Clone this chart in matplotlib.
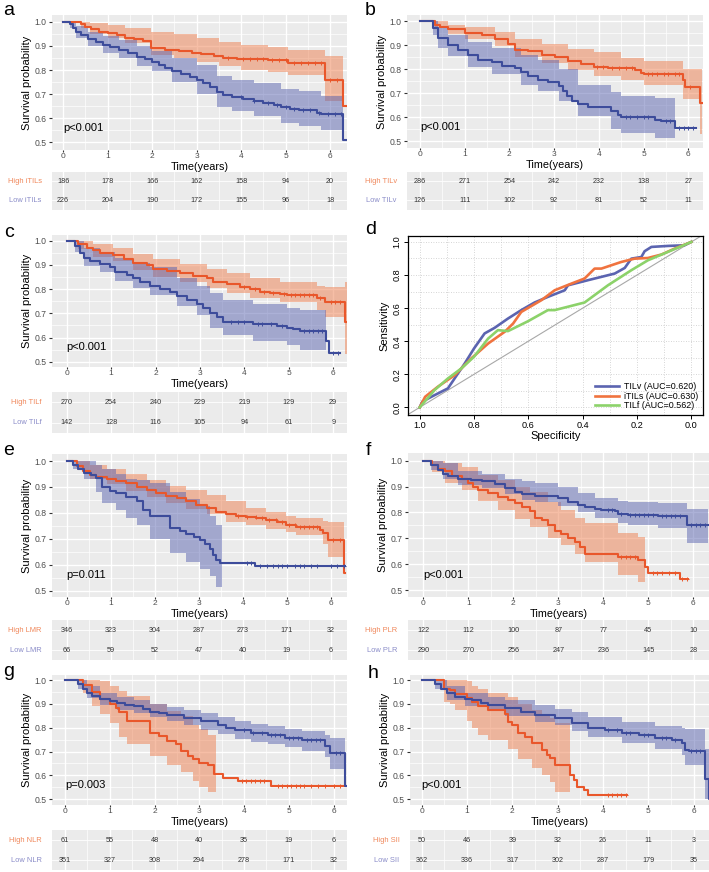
import matplotlib
matplotlib.use("Agg")
import matplotlib.pyplot as plt
import numpy as np

plt.rcParams['font.family'] = ['Liberation Sans', 'DejaVu Sans']

# ---------------- data ----------------
years = [0, 1, 2, 3, 4, 5, 6]

# a: iTILs
a_hi_t = [0, 0.40, 0.50, 0.62, 0.80, 1.00, 1.20, 1.40, 1.60, 1.80, 1.97, 2.30, 2.60, 2.90, 3.10, 3.40, 3.60, 3.90, 4.60, 5.05, 5.88, 6.30, 6.35]
a_hi_s = [1.0, 0.99, 0.98, 0.97, 0.96, 0.955, 0.945, 0.935, 0.93, 0.92, 0.89, 0.885, 0.878, 0.872, 0.865, 0.86, 0.852, 0.845, 0.84, 0.83, 0.76, 0.65, 0.65]
a_hi_bt = [0, 0.40, 0.60, 1.00, 1.40, 1.97, 2.50, 3.00, 3.50, 4.00, 4.60, 5.05, 5.88, 6.30]
a_hi_lo = [1.0, 0.975, 0.950, 0.932, 0.912, 0.862, 0.850, 0.835, 0.815, 0.800, 0.790, 0.778, 0.670, 0.670]
a_hi_up = [1.0, 1.0, 0.995, 0.988, 0.975, 0.960, 0.950, 0.935, 0.915, 0.905, 0.895, 0.885, 0.857, 0.857]
a_hi_cens = [3.7, 4.05, 4.2, 4.35, 4.5, 4.7, 4.85, 5.0, 5.2, 5.35, 5.5, 5.65, 5.8, 6.0, 6.15]
a_lo_t = [0, 0.15, 0.22, 0.30, 0.40, 0.55, 0.75, 0.90, 1.05, 1.25, 1.45, 1.65, 1.85, 2.00, 2.15, 2.30, 2.45, 2.65, 2.85, 3.00, 3.15, 3.30, 3.45, 3.60, 3.80, 4.05, 4.30, 4.50, 4.75, 4.90, 5.10, 5.30, 5.70, 5.80, 6.30, 6.35]
a_lo_s = [1.0, 0.99, 0.975, 0.96, 0.945, 0.93, 0.915, 0.905, 0.895, 0.885, 0.872, 0.855, 0.845, 0.835, 0.82, 0.81, 0.795, 0.785, 0.77, 0.76, 0.745, 0.73, 0.71, 0.695, 0.688, 0.68, 0.672, 0.663, 0.655, 0.645, 0.638, 0.632, 0.622, 0.615, 0.51, 0.51]
a_lo_bt = [0, 0.15, 0.30, 0.55, 0.90, 1.25, 1.65, 2.00, 2.45, 3.00, 3.45, 3.80, 4.30, 4.90, 5.30, 5.80, 6.30]
a_lo_lo = [1.0, 0.975, 0.935, 0.90, 0.872, 0.850, 0.818, 0.795, 0.748, 0.702, 0.648, 0.628, 0.608, 0.578, 0.565, 0.552, 0.552]
a_lo_up = [1.0, 1.0, 0.985, 0.960, 0.942, 0.925, 0.898, 0.880, 0.848, 0.820, 0.775, 0.757, 0.745, 0.722, 0.712, 0.690, 0.690]
a_lo_cens = [4.0, 4.3, 4.6, 4.8, 5.0, 5.2, 5.4, 5.55, 5.75, 5.95, 6.1, 6.25]
a_names = ['High iTILs', 'Low iTILs']
a_hi_n = [186, 178, 166, 162, 158, 94, 20]
a_lo_n = [226, 204, 190, 172, 155, 96, 18]

# b: TILv
b_hi_t = [0, 0.33, 0.45, 0.63, 1.00, 1.38, 1.68, 1.97, 2.12, 2.42, 2.72, 3.02, 3.32, 3.60, 3.90, 4.20, 4.80, 4.95, 5.00, 5.89, 5.93, 6.26, 6.30]
b_hi_s = [1.0, 0.985, 0.975, 0.965, 0.95, 0.94, 0.925, 0.905, 0.88, 0.875, 0.86, 0.85, 0.835, 0.82, 0.81, 0.805, 0.795, 0.785, 0.78, 0.755, 0.725, 0.66, 0.66]
b_hi_bt = [0, 0.33, 0.63, 1.00, 1.68, 2.12, 2.72, 3.32, 3.90, 4.50, 5.00, 5.89, 6.26, 6.30]
b_hi_lo = [1.0, 0.97, 0.945, 0.925, 0.895, 0.85, 0.825, 0.795, 0.77, 0.755, 0.735, 0.675, 0.53, 0.53]
b_hi_up = [1.0, 1.0, 0.985, 0.975, 0.955, 0.925, 0.905, 0.885, 0.87, 0.848, 0.835, 0.80, 0.80, 0.80]
b_hi_cens = [3.95, 4.1, 4.3, 4.45, 4.6, 4.75, 5.1, 5.2, 5.3, 5.45, 5.55, 5.7, 5.8, 6.05]
b_lo_t = [0, 0.30, 0.41, 0.63, 0.86, 1.08, 1.30, 1.60, 1.83, 2.12, 2.27, 2.42, 2.65, 2.87, 3.10, 3.20, 3.28, 3.39, 3.54, 3.76, 4.28, 4.43, 4.50, 5.25, 5.40, 5.70, 6.18]
b_lo_s = [1.0, 0.97, 0.93, 0.90, 0.88, 0.86, 0.84, 0.83, 0.815, 0.805, 0.79, 0.77, 0.755, 0.745, 0.73, 0.71, 0.69, 0.67, 0.655, 0.645, 0.625, 0.61, 0.60, 0.59, 0.585, 0.555, 0.555]
b_lo_bt = [0, 0.30, 0.41, 0.63, 1.08, 1.60, 2.27, 2.65, 3.10, 3.54, 4.28, 4.50, 5.25, 5.70]
b_lo_lo = [1.0, 0.94, 0.89, 0.855, 0.81, 0.78, 0.735, 0.71, 0.67, 0.605, 0.55, 0.535, 0.515, 0.515]
b_lo_up = [1.0, 1.0, 0.975, 0.94, 0.915, 0.89, 0.86, 0.84, 0.80, 0.735, 0.705, 0.69, 0.68, 0.68]
b_lo_cens = [4.6, 4.7, 4.85, 5.0, 5.1, 5.5, 5.6, 5.8, 5.9, 6.0, 6.1]
b_names = ['High TILv', 'Low TILv']
b_hi_n = [286, 271, 254, 242, 232, 138, 27]
b_lo_n = [126, 111, 102, 92, 81, 52, 11]

# c: TILf
c_hi_t = [0, 0.26, 0.45, 0.60, 0.75, 1.05, 1.28, 1.50, 1.80, 1.95, 2.25, 2.55, 2.85, 3.15, 3.30, 3.60, 3.90, 4.13, 4.35, 4.58, 4.80, 4.95, 5.63, 5.81, 6.26, 6.30]
c_hi_s = [1.0, 0.985, 0.97, 0.96, 0.95, 0.94, 0.925, 0.91, 0.90, 0.885, 0.875, 0.865, 0.855, 0.845, 0.83, 0.82, 0.81, 0.80, 0.79, 0.785, 0.78, 0.775, 0.765, 0.745, 0.665, 0.665]
c_hi_bt = [0, 0.26, 0.60, 1.05, 1.50, 1.95, 2.55, 3.15, 3.60, 4.13, 4.80, 5.63, 5.81, 6.26, 6.30]
c_hi_lo = [1.0, 0.965, 0.935, 0.915, 0.88, 0.85, 0.83, 0.805, 0.785, 0.765, 0.745, 0.715, 0.686, 0.53, 0.53]
c_hi_up = [1.0, 1.0, 0.985, 0.97, 0.945, 0.925, 0.905, 0.885, 0.865, 0.845, 0.83, 0.815, 0.81, 0.83, 0.83]
c_hi_cens = [4.0, 4.25, 4.45, 4.65, 4.9, 5.05, 5.15, 5.25, 5.35, 5.45, 5.55, 5.7, 5.95, 6.05, 6.15]
c_lo_t = [0, 0.19, 0.30, 0.38, 0.53, 0.75, 0.98, 1.09, 1.35, 1.50, 1.65, 1.88, 2.10, 2.33, 2.48, 2.70, 2.93, 3.08, 3.23, 3.38, 3.53, 4.20, 4.73, 4.95, 5.10, 5.25, 5.84, 5.90, 6.15]
c_lo_s = [1.0, 0.98, 0.95, 0.93, 0.915, 0.905, 0.89, 0.87, 0.86, 0.845, 0.83, 0.815, 0.80, 0.79, 0.77, 0.755, 0.74, 0.72, 0.70, 0.685, 0.665, 0.655, 0.648, 0.64, 0.635, 0.625, 0.585, 0.535, 0.535]
c_lo_bt = [0, 0.19, 0.38, 0.75, 1.09, 1.50, 1.88, 2.48, 2.93, 3.23, 3.53, 4.20, 4.95, 5.25, 5.84]
c_lo_lo = [1.0, 0.955, 0.895, 0.87, 0.835, 0.805, 0.775, 0.73, 0.695, 0.64, 0.61, 0.585, 0.57, 0.55, 0.55]
c_lo_up = [1.0, 1.0, 0.97, 0.955, 0.93, 0.91, 0.89, 0.845, 0.815, 0.785, 0.755, 0.74, 0.72, 0.715, 0.715]
c_lo_cens = [3.7, 3.85, 4.0, 4.3, 4.4, 4.6, 4.85, 5.35, 5.45, 5.55, 5.65, 5.75, 6.0, 6.1]
c_names = ['High TILf', 'Low TILf']
c_hi_n = [270, 254, 240, 229, 219, 129, 29]
c_lo_n = [142, 128, 116, 105, 94, 61, 9]

# d: ROC (specificity, sensitivity)
roc_tilv_sp = [1.0, 0.99, 0.957, 0.896, 0.834, 0.80, 0.761, 0.724, 0.675, 0.626, 0.577, 0.528, 0.466, 0.454, 0.38, 0.331, 0.282, 0.245, 0.221, 0.184, 0.172, 0.147, 0.086, 0.025, 0.0]
roc_tilv_se = [0.0, 0.035, 0.064, 0.115, 0.266, 0.356, 0.447, 0.481, 0.537, 0.588, 0.634, 0.668, 0.708, 0.738, 0.769, 0.789, 0.809, 0.843, 0.899, 0.909, 0.944, 0.97, 0.976, 0.98, 1.0]
roc_itils_sp = [1.0, 0.98, 0.933, 0.871, 0.81, 0.748, 0.687, 0.656, 0.626, 0.552, 0.503, 0.442, 0.393, 0.356, 0.331, 0.258, 0.209, 0.16, 0.11, 0.061, 0.0]
roc_itils_se = [0.0, 0.064, 0.125, 0.195, 0.296, 0.386, 0.457, 0.507, 0.577, 0.648, 0.708, 0.748, 0.779, 0.839, 0.839, 0.879, 0.899, 0.903, 0.924, 0.96, 1.0]
roc_tilf_sp = [1.0, 0.945, 0.896, 0.847, 0.80, 0.748, 0.712, 0.675, 0.601, 0.528, 0.503, 0.393, 0.307, 0.221, 0.16, 0.086, 0.0]
roc_tilf_se = [0.0, 0.105, 0.175, 0.235, 0.306, 0.416, 0.467, 0.461, 0.521, 0.588, 0.588, 0.634, 0.738, 0.829, 0.889, 0.94, 1.0]
roc_labels = ['TILv (AUC=0.620)', 'iTILs (AUC=0.630)', 'TILf (AUC=0.562)']

# e: LMR
e_hi_t = [0, 0.23, 0.38, 0.53, 0.68, 0.91, 1.13, 1.36, 1.59, 1.82, 2.04, 2.27, 2.50, 2.72, 2.95, 3.18, 3.40, 3.63, 3.86, 4.08, 4.31, 4.54, 4.77, 4.99, 5.22, 5.75, 5.82, 5.94, 6.30, 6.32]
e_hi_s = [1.0, 0.98, 0.96, 0.945, 0.94, 0.93, 0.922, 0.914, 0.9, 0.888, 0.875, 0.865, 0.856, 0.845, 0.83, 0.82, 0.805, 0.797, 0.79, 0.785, 0.78, 0.772, 0.765, 0.752, 0.746, 0.735, 0.722, 0.695, 0.57, 0.57]
e_hi_bt = [0, 0.23, 0.53, 0.91, 1.36, 1.82, 2.27, 2.72, 3.18, 3.63, 4.08, 4.54, 4.99, 5.22, 5.82, 5.94, 6.30]
e_hi_lo = [1.0, 0.965, 0.93, 0.912, 0.885, 0.86, 0.837, 0.816, 0.795, 0.765, 0.755, 0.738, 0.725, 0.715, 0.68, 0.63, 0.63]
e_hi_up = [1.0, 1.0, 0.985, 0.97, 0.95, 0.925, 0.905, 0.89, 0.87, 0.845, 0.82, 0.805, 0.79, 0.78, 0.77, 0.765, 0.765]
e_hi_cens = [3.9, 4.1, 4.3, 4.45, 4.6, 4.75, 4.9, 5.05, 5.2, 5.3, 5.4, 5.5, 5.6, 5.7, 6.05, 6.2]
e_lo_t = [0, 0.15, 0.25, 0.40, 0.55, 0.68, 0.80, 0.98, 1.13, 1.36, 1.59, 1.74, 1.90, 2.35, 2.57, 2.72, 2.90, 3.03, 3.14, 3.25, 3.33, 3.40, 3.48, 4.27, 6.33]
e_lo_s = [1.0, 0.985, 0.97, 0.955, 0.945, 0.935, 0.90, 0.885, 0.875, 0.86, 0.845, 0.81, 0.788, 0.74, 0.73, 0.72, 0.708, 0.695, 0.68, 0.66, 0.637, 0.618, 0.608, 0.595, 0.595]
e_lo_bt = [0, 0.15, 0.40, 0.68, 0.80, 1.13, 1.36, 1.59, 1.90, 2.35, 2.72, 3.03, 3.25, 3.40, 3.52]
e_lo_lo = [1.0, 0.97, 0.93, 0.88, 0.84, 0.81, 0.78, 0.755, 0.70, 0.645, 0.61, 0.585, 0.555, 0.515, 0.515]
e_lo_up = [1.0, 1.0, 1.0, 0.985, 0.97, 0.95, 0.93, 0.925, 0.915, 0.88, 0.855, 0.825, 0.79, 0.755, 0.755]
e_lo_cens = [4.1, 4.2, 4.4, 4.55, 4.7, 4.8, 4.9, 5.0, 5.2, 5.3, 5.4, 5.55, 5.7, 6.0, 6.15, 6.3]
e_names = ['High LMR', 'Low LMR']
e_hi_n = [346, 323, 304, 287, 273, 171, 32]
e_lo_n = [66, 59, 52, 47, 40, 19, 6]

# f: PLR
f_hi_t = [0, 0.20, 0.33, 0.48, 0.63, 0.85, 1.00, 1.11, 1.22, 1.44, 1.67, 1.89, 2.04, 2.19, 2.37, 2.48, 2.63, 2.78, 2.93, 3.07, 3.22, 3.37, 3.48, 3.59, 4.33, 4.78, 4.93, 5.00, 5.70, 5.89]
f_hi_s = [1.0, 0.985, 0.97, 0.96, 0.94, 0.93, 0.915, 0.90, 0.885, 0.875, 0.86, 0.85, 0.835, 0.82, 0.805, 0.78, 0.77, 0.75, 0.73, 0.715, 0.70, 0.685, 0.665, 0.64, 0.629, 0.616, 0.59, 0.567, 0.541, 0.541]
f_hi_bt = [0, 0.20, 0.48, 0.85, 1.22, 1.67, 2.04, 2.37, 2.78, 3.07, 3.37, 3.59, 4.33, 4.78, 4.93]
f_hi_lo = [1.0, 0.955, 0.915, 0.885, 0.845, 0.81, 0.775, 0.745, 0.70, 0.675, 0.64, 0.61, 0.56, 0.53, 0.53]
f_hi_up = [1.0, 1.0, 0.99, 0.975, 0.945, 0.925, 0.90, 0.88, 0.84, 0.81, 0.78, 0.76, 0.72, 0.705, 0.705]
f_hi_cens = [4.4, 4.5, 4.6, 4.7, 5.1, 5.2, 5.3, 5.45, 5.6, 5.75, 5.85]
f_lo_t = [0, 0.18, 0.33, 0.44, 0.55, 0.78, 1.07, 1.30, 1.60, 1.81, 2.04, 2.19, 2.48, 3.00, 3.22, 3.44, 3.59, 3.81, 3.96, 4.26, 4.33, 4.55, 5.22, 5.87, 6.33]
f_lo_s = [1.0, 0.985, 0.965, 0.95, 0.94, 0.93, 0.925, 0.92, 0.91, 0.895, 0.88, 0.87, 0.865, 0.855, 0.84, 0.83, 0.82, 0.815, 0.81, 0.805, 0.795, 0.79, 0.785, 0.75, 0.75]
f_lo_bt = [0, 0.18, 0.44, 0.78, 1.30, 1.81, 2.19, 2.48, 3.00, 3.44, 3.81, 4.33, 4.55, 5.22, 5.87, 6.33]
f_lo_lo = [1.0, 0.965, 0.93, 0.905, 0.895, 0.87, 0.85, 0.84, 0.825, 0.80, 0.78, 0.76, 0.75, 0.74, 0.68, 0.68]
f_lo_up = [1.0, 1.0, 0.99, 0.96, 0.95, 0.93, 0.92, 0.915, 0.90, 0.875, 0.855, 0.845, 0.84, 0.835, 0.815, 0.815]
f_lo_cens = [4.1, 4.2, 4.4, 4.6, 4.7, 4.8, 4.9, 5.0, 5.1, 5.3, 5.4, 5.5, 5.6, 5.7, 5.95, 6.05, 6.15, 6.25]
f_names = ['High PLR', 'Low PLR']
f_hi_n = [122, 112, 100, 87, 77, 45, 10]
f_lo_n = [290, 270, 256, 247, 236, 145, 28]

# g: NLR
g_hi_t = [0, 0.40, 0.60, 0.79, 1.00, 1.13, 1.20, 1.39, 1.91, 2.10, 2.29, 2.47, 2.59, 2.74, 2.85, 3.00, 3.19, 3.34, 3.53, 3.86, 4.60, 6.33]
g_hi_s = [1.0, 0.98, 0.95, 0.92, 0.90, 0.885, 0.865, 0.827, 0.778, 0.765, 0.744, 0.73, 0.703, 0.682, 0.668, 0.65, 0.645, 0.606, 0.59, 0.576, 0.554, 0.554]
g_hi_bt = [0, 0.40, 0.60, 0.79, 1.00, 1.20, 1.39, 1.91, 2.29, 2.59, 2.85, 3.00, 3.19, 3.37]
g_hi_lo = [1.0, 0.945, 0.89, 0.86, 0.82, 0.76, 0.73, 0.68, 0.645, 0.615, 0.575, 0.55, 0.53, 0.53]
g_hi_up = [1.0, 1.0, 1.0, 0.995, 0.975, 0.955, 0.935, 0.90, 0.87, 0.85, 0.81, 0.795, 0.77, 0.77]
g_hi_cens = [3.95, 4.05, 4.15, 4.25, 4.35, 4.45, 4.75, 4.85, 4.95, 5.05, 5.15, 5.25, 5.35, 5.5, 5.65, 5.8, 6.0, 6.15]
g_lo_t = [0, 0.30, 0.40, 0.49, 0.60, 0.79, 1.00, 1.16, 1.35, 1.54, 1.75, 1.91, 2.10, 2.29, 2.66, 3.04, 3.41, 3.60, 3.79, 4.16, 4.54, 4.91, 5.29, 5.81, 5.93, 6.26, 6.30]
g_lo_s = [1.0, 0.985, 0.965, 0.945, 0.935, 0.92, 0.912, 0.905, 0.897, 0.89, 0.878, 0.868, 0.862, 0.855, 0.843, 0.827, 0.813, 0.80, 0.79, 0.778, 0.769, 0.758, 0.747, 0.723, 0.692, 0.555, 0.555]
g_lo_bt = [0, 0.30, 0.49, 0.79, 1.16, 1.54, 1.91, 2.29, 2.66, 3.04, 3.41, 3.79, 4.16, 4.54, 4.91, 5.29, 5.81, 5.93, 6.26]
g_lo_lo = [1.0, 0.965, 0.925, 0.895, 0.875, 0.862, 0.845, 0.827, 0.81, 0.792, 0.772, 0.751, 0.74, 0.73, 0.717, 0.703, 0.675, 0.627, 0.627]
g_lo_up = [1.0, 1.0, 0.975, 0.945, 0.93, 0.917, 0.90, 0.889, 0.875, 0.861, 0.845, 0.827, 0.815, 0.806, 0.795, 0.786, 0.77, 0.758, 0.758]
g_lo_cens = [4.0, 4.2, 4.4, 4.6, 4.7, 4.8, 5.0, 5.1, 5.2, 5.4, 5.5, 5.6, 5.7, 6.05, 6.15]
g_names = ['High NLR', 'Low NLR']
g_hi_n = [61, 55, 48, 40, 35, 19, 6]
g_lo_n = [351, 327, 308, 294, 278, 171, 32]

# h: SII
h_hi_t = [0, 0.48, 0.63, 0.74, 1.00, 1.10, 1.25, 1.47, 1.84, 1.91, 1.99, 2.13, 2.28, 2.43, 2.65, 2.76, 2.84, 2.95, 3.28, 3.35, 3.42, 3.57, 3.68, 4.53]
h_hi_s = [1.0, 0.965, 0.96, 0.94, 0.925, 0.91, 0.89, 0.875, 0.86, 0.826, 0.812, 0.776, 0.762, 0.734, 0.706, 0.685, 0.671, 0.643, 0.60, 0.58, 0.552, 0.538, 0.517, 0.517]
h_hi_bt = [0, 0.48, 0.63, 0.74, 1.00, 1.10, 1.25, 1.47, 1.91, 2.13, 2.43, 2.65, 2.84, 2.95, 3.28]
h_hi_lo = [1.0, 0.91, 0.90, 0.875, 0.83, 0.80, 0.77, 0.75, 0.71, 0.67, 0.63, 0.60, 0.57, 0.53, 0.53]
h_hi_up = [1.0, 1.0, 1.0, 1.0, 0.995, 0.975, 0.965, 0.945, 0.93, 0.90, 0.875, 0.855, 0.84, 0.82, 0.82]
h_hi_cens = [4.1, 4.2, 4.3, 4.4, 4.5]
h_lo_t = [0, 0.30, 0.42, 0.55, 0.74, 0.95, 1.10, 1.30, 1.47, 1.84, 2.20, 2.50, 2.95, 3.31, 3.68, 4.05, 4.42, 4.79, 5.15, 5.52, 5.74, 5.82, 5.89, 6.26, 6.33, 6.36]
h_lo_s = [1.0, 0.985, 0.965, 0.945, 0.93, 0.922, 0.917, 0.905, 0.896, 0.882, 0.868, 0.854, 0.84, 0.819, 0.798, 0.79, 0.779, 0.769, 0.755, 0.748, 0.737, 0.706, 0.702, 0.583, 0.50, 0.50]
h_lo_bt = [0, 0.30, 0.55, 0.95, 1.47, 1.84, 2.50, 2.95, 3.31, 3.68, 4.42, 5.15, 5.74, 5.82, 6.26, 6.33]
h_lo_lo = [1.0, 0.965, 0.915, 0.89, 0.87, 0.85, 0.825, 0.81, 0.785, 0.76, 0.735, 0.71, 0.685, 0.643, 0.50, 0.50]
h_lo_up = [1.0, 1.0, 0.975, 0.945, 0.93, 0.917, 0.895, 0.88, 0.865, 0.845, 0.825, 0.808, 0.798, 0.795, 0.71, 0.71]
h_lo_cens = [4.1, 4.3, 4.5, 4.6, 4.9, 5.0, 5.3, 5.4, 5.6, 5.95, 6.05, 6.15]
h_names = ['High SII', 'Low SII']
h_hi_n = [50, 46, 39, 32, 26, 11, 3]
h_lo_n = [362, 336, 317, 302, 287, 179, 35]

# ---------------- styling ----------------
ORANGE, ORANGE_F, ORANGE_T = '#E9572B', '#EE7F4F', '#F0875A'
BLUE, BLUE_F, BLUE_T = '#3D4C9B', '#5A64B0', '#8A8CC8'
BG = '#EBEBEB'

W, H = 709, 872
fig = plt.figure(figsize=(W / 100, H / 100), dpi=100)


def box(x0, y0, x1, y1):
    return [x0 / W, 1 - y1 / H, (x1 - x0) / W, (y1 - y0) / H]


def surv_at(t, s, c):
    idx = np.searchsorted(np.array(t), np.array(c), side='right') - 1
    return np.array(s)[idx]


def km_panel(pbox, tbox, xlim, ylim, hi, lo, ptext, names, hi_n, lo_n):
    ax = fig.add_axes(box(*pbox))
    ax.set_zorder(3)
    ax.set_facecolor(BG)
    for sp in ax.spines.values():
        sp.set_visible(False)
    ax.set_xlim(*xlim)
    ax.set_ylim(*ylim)
    ax.set_xticks(years)
    ax.set_xticks([0.5, 1.5, 2.5, 3.5, 4.5, 5.5], minor=True)
    yt = [0.5, 0.6, 0.7, 0.8, 0.9, 1.0]
    ax.set_yticks(yt)
    ax.set_yticklabels(['%.1f' % v for v in yt])
    ax.set_yticks([0.55, 0.65, 0.75, 0.85, 0.95], minor=True)
    ax.grid(which='major', color='white', lw=1.0)
    ax.grid(which='minor', color='white', lw=0.5)
    ax.set_axisbelow(True)
    ax.tick_params(which='major', length=2.2, width=0.8, color='#333333',
                   labelsize=6.2, labelcolor='#4D4D4D', pad=1.5)
    ax.tick_params(axis='x', which='major', length=1.6, pad=0.4, labelsize=6)
    ax.tick_params(which='minor', length=0)

    for (t, s, bt, blo, bup, cens), fc in ((hi, ORANGE_F), (lo, BLUE_F)):
        ax.fill_between(bt, blo, bup, step='post', color=fc, alpha=0.5, lw=0)
    for (t, s, bt, blo, bup, cens), lc in ((hi, ORANGE), (lo, BLUE)):
        ax.step(t, s, where='post', color=lc, lw=1.5)
        ax.plot(cens, surv_at(t, s, cens), ls='none', marker='+', ms=3,
                mew=0.7, color=lc)

    ax.text(0.0, 0.56, ptext, fontsize=8, va='center', ha='left')
    ax.set_ylabel('Survival probability', fontsize=8, labelpad=2)
    ax.set_xlabel('Time(years)', fontsize=7.8, va='center')
    ph = pbox[3] - pbox[1]
    ax.xaxis.set_label_coords(0.5, -17.0 / ph)

    tb = fig.add_axes(box(*tbox))
    tb.set_facecolor(BG)
    for sp in tb.spines.values():
        sp.set_visible(False)
    tb.set_xlim(*xlim)
    tb.set_ylim(0.5, 2.5)
    tb.set_xticks(years)
    tb.set_xticks([0.5, 1.5, 2.5, 3.5, 4.5, 5.5], minor=True)
    tb.set_yticks([1, 2])
    tb.grid(which='major', axis='x', color='white', lw=1.0)
    tb.grid(which='minor', axis='x', color='white', lw=0.5)
    tb.grid(which='major', axis='y', color='white', lw=0.6)
    tb.set_axisbelow(True)
    tb.tick_params(which='both', length=0, labelbottom=False, labelleft=False)
    for yr, n1, n2 in zip(years, hi_n, lo_n):
        tb.text(yr, 2, str(n1), fontsize=5.2, color='#333333', ha='center', va='center')
        tb.text(yr, 1, str(n2), fontsize=5.2, color='#333333', ha='center', va='center')
    tr = tb.get_yaxis_transform()
    tb.text(-0.035, 2, names[0], transform=tr, fontsize=5.4, color=ORANGE_T,
            ha='right', va='center')
    tb.text(-0.035, 1, names[1], transform=tr, fontsize=5.4, color=BLUE_T,
            ha='right', va='center')
    return ax


km_panel((52, 15, 347, 150), (52, 172, 347, 210), (-0.25, 6.38), (0.467, 1.029),
         (a_hi_t, a_hi_s, a_hi_bt, a_hi_lo, a_hi_up, a_hi_cens),
         (a_lo_t, a_lo_s, a_lo_bt, a_lo_lo, a_lo_up, a_lo_cens),
         'p<0.001', a_names, a_hi_n, a_lo_n)
km_panel((407, 15, 703, 148), (407, 172, 703, 210), (-0.29, 6.33), (0.473, 1.025),
         (b_hi_t, b_hi_s, b_hi_bt, b_hi_lo, b_hi_up, b_hi_cens),
         (b_lo_t, b_lo_s, b_lo_bt, b_lo_lo, b_lo_up, b_lo_cens),
         'p<0.001', b_names, b_hi_n, b_lo_n)
km_panel((52, 235, 347, 367), (52, 392, 347, 433), (-0.33, 6.31), (0.478, 1.024),
         (c_hi_t, c_hi_s, c_hi_bt, c_hi_lo, c_hi_up, c_hi_cens),
         (c_lo_t, c_lo_s, c_lo_bt, c_lo_lo, c_lo_up, c_lo_cens),
         'p<0.001', c_names, c_hi_n, c_lo_n)
km_panel((52, 454, 347, 597), (52, 620, 347, 660), (-0.33, 6.37), (0.476, 1.027),
         (e_hi_t, e_hi_s, e_hi_bt, e_hi_lo, e_hi_up, e_hi_cens),
         (e_lo_t, e_lo_s, e_lo_bt, e_lo_lo, e_lo_up, e_lo_cens),
         'p=0.011', e_names, e_hi_n, e_lo_n)
km_panel((408, 453, 709, 597), (408, 620, 709, 660), (-0.34, 6.35), (0.473, 1.03),
         (f_hi_t, f_hi_s, f_hi_bt, f_hi_lo, f_hi_up, f_hi_cens),
         (f_lo_t, f_lo_s, f_lo_bt, f_lo_lo, f_lo_up, f_lo_cens),
         'p<0.001', f_names, f_hi_n, f_lo_n)
km_panel((52, 675, 347, 805), (52, 830, 347, 870), (-0.29, 6.30), (0.475, 1.022),
         (g_hi_t, g_hi_s, g_hi_bt, g_hi_lo, g_hi_up, g_hi_cens),
         (g_lo_t, g_lo_s, g_lo_bt, g_lo_lo, g_lo_up, g_lo_cens),
         'p=0.003', g_names, g_hi_n, g_lo_n)
km_panel((410, 675, 709, 805), (410, 830, 709, 870), (-0.26, 6.34), (0.475, 1.022),
         (h_hi_t, h_hi_s, h_hi_bt, h_hi_lo, h_hi_up, h_hi_cens),
         (h_lo_t, h_lo_s, h_lo_bt, h_lo_lo, h_lo_up, h_lo_cens),
         'p<0.001', h_names, h_hi_n, h_lo_n)

# ---------------- ROC panel d ----------------
axd = fig.add_axes(box(408, 236, 703, 415))
axd.set_xlim(1.043, -0.043)
axd.set_ylim(-0.046, 1.036)
for v in [0.1 * i for i in range(11)]:
    axd.axvline(v, color='#C8C8C8', lw=0.6, ls=(0, (1, 2)))
    axd.axhline(v, color='#C8C8C8', lw=0.6, ls=(0, (1, 2)))
axd.plot([1.1, -0.1], [-0.1, 1.1], color='#A8A8A8', lw=0.8)
axd.plot(roc_tilv_sp, roc_tilv_se, color='#5B64B0', lw=1.9, label=roc_labels[0])
axd.plot(roc_itils_sp, roc_itils_se, color='#F0733F', lw=1.9, label=roc_labels[1])
axd.plot(roc_tilf_sp, roc_tilf_se, color='#8CD26A', lw=1.9, label=roc_labels[2])
ticks = [0.0, 0.2, 0.4, 0.6, 0.8, 1.0]
axd.set_xticks(ticks)
axd.set_xticklabels(['%.1f' % v for v in ticks])
axd.set_yticks(ticks)
axd.set_yticklabels(['%.1f' % v for v in ticks], rotation=90, va='center')
axd.tick_params(length=3, width=0.7, labelsize=6.6, pad=1.5)
for sp in axd.spines.values():
    sp.set_linewidth(0.9)
axd.set_xlabel('Specificity', fontsize=8, labelpad=0.5)
axd.set_ylabel('Sensitivity', fontsize=8, labelpad=2)
axd.legend(loc='lower right', fontsize=6.4, frameon=False, handlelength=2.6,
           labelspacing=0.05, borderaxespad=0.15, handletextpad=0.6)

# ---------------- panel letters ----------------
for letter, x, y in [('a', 3, 15), ('b', 365, 15), ('c', 4, 237), ('d', 365, 234),
                     ('e', 3, 455), ('f', 366, 455), ('g', 3, 676), ('h', 368, 678)]:
    fig.text(x / W, 1 - y / H, letter, fontsize=14, va='baseline', ha='left')

fig.savefig('out.png', dpi=100)
